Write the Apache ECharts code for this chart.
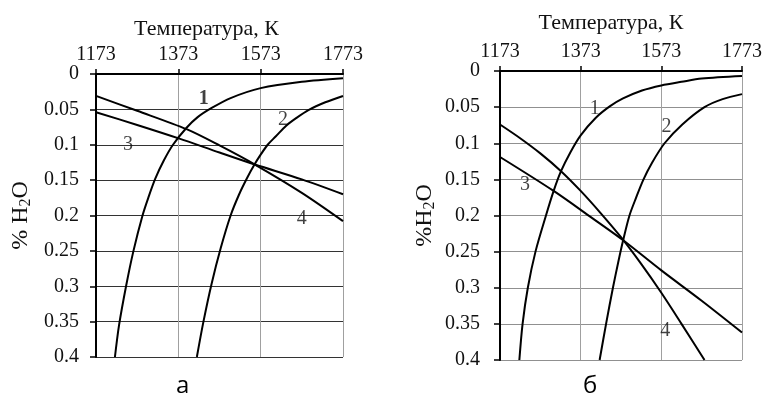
<!DOCTYPE html>
<html><head><meta charset="utf-8">
<script src="https://cdn.jsdelivr.net/npm/echarts@6/dist/echarts.min.js"></script>
<style>html,body{margin:0;padding:0;background:#fff}#c{width:765px;height:401px}</style>
</head><body><div id="c"></div>
<script>
// Tick labels
const xTickLabels = [1173, 1373, 1573, 1773];
const yTickLabels = [0, 0.05, 0.1, 0.15, 0.2, 0.25, 0.3, 0.35, 0.4];
const xAxisTitle = 'Температура, К';
const panelLetters = ['а', 'б'];
const curveNames = ['1', '2', '3', '4'];

// Panel а  [temperature K, % H2O]
const a_curve1 = [[1219,0.4],[1229,0.355],[1246,0.3],[1264,0.25],[1286,0.2],[1300,0.175],[1317,0.148],[1338,0.122],[1360,0.1],[1393,0.076],[1420,0.061],[1454,0.048],[1500,0.034],[1573,0.02],[1673,0.011],[1773,0.006]];
const a_curve2 = [[1418,0.4],[1434,0.35],[1454,0.296],[1476,0.246],[1500,0.2],[1520,0.171],[1540,0.147],[1559,0.127],[1573,0.114],[1590,0.1],[1610,0.088],[1635,0.073],[1660,0.062],[1689,0.051],[1730,0.04],[1773,0.031]];
const a_line3 = [[1173,0.054],[1273,0.072],[1374,0.091],[1473,0.111],[1559,0.128],[1673,0.149],[1773,0.17]];
const a_line4 = [[1173,0.031],[1273,0.052],[1393,0.078],[1473,0.101],[1559,0.128],[1673,0.168],[1773,0.208]];
const a_labelPos = [[1435,0.035],[1627,0.065],[1251,0.1],[1673,0.205]];

// Panel б
const b_curve1 = [[1221,0.4],[1229,0.35],[1242,0.3],[1261,0.25],[1287,0.2],[1306,0.166],[1324,0.139],[1348,0.112],[1373,0.089],[1410,0.065],[1445,0.049],[1478,0.038],[1525,0.027],[1573,0.02],[1623,0.015],[1673,0.0105],[1773,0.007]];
const b_curve2 = [[1420,0.4],[1436,0.35],[1453,0.3],[1466,0.265],[1478,0.235],[1494,0.2],[1510,0.176],[1528,0.151],[1550,0.127],[1581,0.1],[1625,0.074],[1680,0.05],[1725,0.039],[1773,0.032]];
const b_line3 = [[1173,0.119],[1306,0.166],[1400,0.203],[1480,0.235],[1573,0.276],[1673,0.318],[1773,0.362]];
const b_line4 = [[1173,0.074],[1223,0.093],[1273,0.114],[1323,0.138],[1373,0.166],[1423,0.197],[1473,0.23],[1523,0.267],[1573,0.307],[1623,0.35],[1680,0.4]];
const b_labelPos = [[1408,0.052],[1586,0.077],[1235,0.158],[1583,0.36]];

const SERIF = 'Liberation Serif';
const txt = '#111';

function xAx(gi, pad, gap) {
  return {
    type: 'value', gridIndex: gi, position: 'top',
    min: xTickLabels[0], max: xTickLabels[xTickLabels.length - 1],
    interval: xTickLabels[1] - xTickLabels[0],
    name: xAxisTitle, nameLocation: 'middle', nameGap: gap,
    nameTextStyle: { fontFamily: SERIF, fontSize: 22, color: txt, padding: pad },
    axisLine: { show: true, lineStyle: { color: '#000', width: 2 } },
    axisTick: { show: true, inside: false, length: 5, lineStyle: { color: '#000', width: 1.5 } },
    axisLabel: { fontFamily: SERIF, fontSize: 20, color: txt, margin: 9, formatter: v => String(v) },
    splitLine: { show: true, lineStyle: { color: '#a0a0a0', width: 1 } }
  };
}
function yAx(gi, name, hColor, labMargin, gap) {
  return {
    type: 'value', gridIndex: gi, inverse: true,
    min: yTickLabels[0], max: yTickLabels[yTickLabels.length - 1],
    interval: yTickLabels[1] - yTickLabels[0],
    name: name, nameLocation: 'middle', nameGap: gap,
    nameTextStyle: {
      color: txt,
      rich: {
        t: { fontFamily: SERIF, fontSize: 24, color: txt },
        s: { fontFamily: SERIF, fontSize: 16, color: txt, padding: [10, 0, 0, 0] }
      }
    },
    axisLine: { show: true, lineStyle: { color: '#000', width: 2 } },
    axisTick: { show: true, inside: false, length: 6, lineStyle: { color: '#000', width: 1.5 } },
    axisLabel: { fontFamily: SERIF, fontSize: 20, color: txt, margin: labMargin },
    splitLine: { show: true, lineStyle: { color: hColor, width: 1 } }
  };
}
function lineSeries(data, gi) {
  return {
    type: 'line', data: data, xAxisIndex: gi, yAxisIndex: gi,
    smooth: 0.3, symbol: 'none', silent: true,
    lineStyle: { color: '#000', width: 2 }
  };
}
function labelSeries(pos, gi, boldFirst) {
  return {
    type: 'scatter', xAxisIndex: gi, yAxisIndex: gi, symbolSize: 0, silent: true,
    data: pos.map((p, i) => ({
      value: p, name: curveNames[i],
      label: { fontWeight: (boldFirst && i === 0) ? 'bold' : 'normal' }
    })),
    label: { show: true, position: 'inside', formatter: '{b}', fontFamily: SERIF, fontSize: 20, color: txt }
  };
}

const chart = echarts.init(document.getElementById('c'));
chart.setOption({
  animation: false,
  backgroundColor: '#fff',
  grid: [
    { left: 96, top: 74, width: 247, height: 283 },
    { left: 500, top: 71, width: 243, height: 289 }
  ],
  xAxis: [xAx(0, [0, 26, 0, 0], 34), xAx(1, [0, 20, 0, 0], 37)],
  yAxis: [yAx(0, '{t|% H}{s|2}{t|O}', '#333', 17, 62), yAx(1, '{t|%H}{s|2}{t|O}', '#909090', 20, 62)],
  series: [
    lineSeries(a_curve1, 0), lineSeries(a_curve2, 0), lineSeries(a_line3, 0), lineSeries(a_line4, 0),
    lineSeries(b_curve1, 1), lineSeries(b_curve2, 1), lineSeries(b_line3, 1), lineSeries(b_line4, 1),
    labelSeries(a_labelPos, 0, true), labelSeries(b_labelPos, 1, false)
  ],
  graphic: [
    { type: 'text', left: 176, top: 374, style: { text: panelLetters[0], font: '24px "Open Sans"', fill: '#000' } },
    { type: 'text', left: 583, top: 374, style: { text: panelLetters[1], font: '24px "Open Sans"', fill: '#000' } }
  ]
});
</script>
</body></html>
